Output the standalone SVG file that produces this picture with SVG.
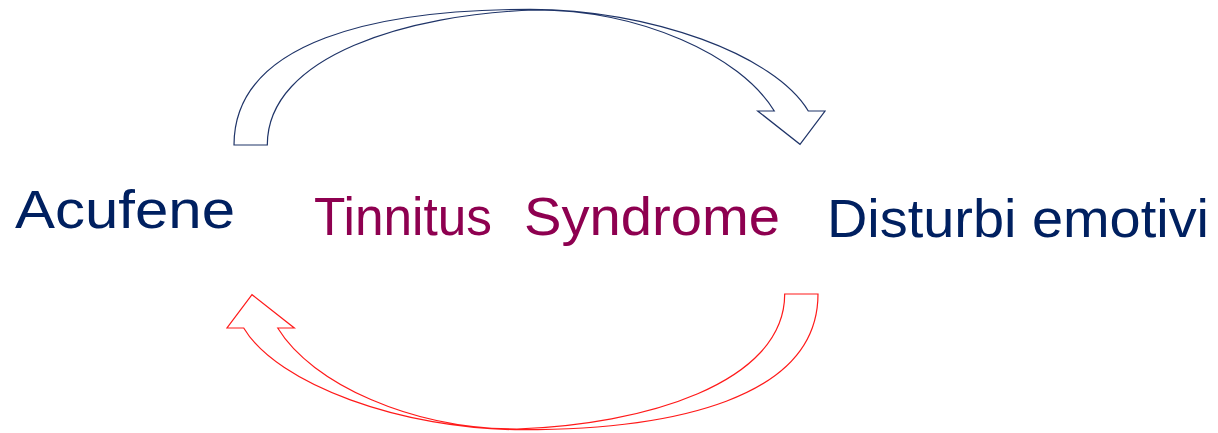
<svg xmlns="http://www.w3.org/2000/svg" width="1218" height="433" viewBox="0 0 1218 433">
  <style>
    .lbl { font-family: "Liberation Sans", Arial, sans-serif; font-size: 54px; }
    .navy { fill: #002060; }
    .plum { fill: #8E0050; }
    .arrow { fill: #FFFFFF; stroke-width: 1.2; stroke-linejoin: miter; }
  </style>
  <defs>
    <path id="curved-arrow" d="M234,145 C234,40 380,9.3 530,9.3 C650,9.3 775,55 808.3,111 L825,111 L800,144.3 L757.7,111 L774.3,111 C740,55 640,10 535,10 C410,14 267.3,55 267.3,145 Z"/>
  </defs>
  <rect width="1218" height="433" fill="#FFFFFF"/>
  <g id="connectors">
    <use id="arrow-acufene-to-disturbi" href="#curved-arrow" class="arrow" stroke="#1F3468"/>
    <use id="arrow-disturbi-to-acufene" href="#curved-arrow" class="arrow" stroke="#FF1A1A" transform="rotate(180 526 219.5)"/>
  </g>
  <g id="node-acufene">
    <text class="lbl navy" x="15" y="228" textLength="220" lengthAdjust="spacingAndGlyphs">Acufene</text>
  </g>
  <g id="node-tinnitus-syndrome">
    <text class="lbl plum" x="314" y="235" textLength="178" lengthAdjust="spacingAndGlyphs">Tinnitus</text>
    <text class="lbl plum" x="524" y="235" textLength="256" lengthAdjust="spacingAndGlyphs">Syndrome</text>
  </g>
  <g id="node-disturbi-emotivi">
    <text class="lbl navy" x="827" y="237" textLength="382" lengthAdjust="spacingAndGlyphs">Disturbi emotivi</text>
  </g>
</svg>
